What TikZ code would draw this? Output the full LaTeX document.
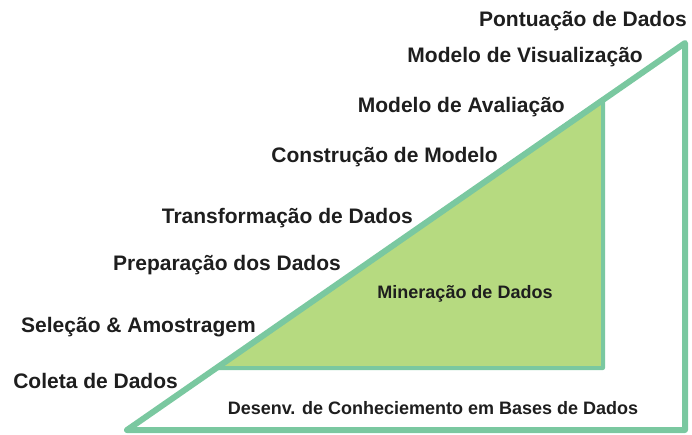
\documentclass[tikz,border=0pt]{standalone}
\usepackage{fontspec}
\setmainfont{Liberation Sans}
\usepackage{tikz}
\definecolor{mint}{RGB}{122,200,160}
\definecolor{leaf}{RGB}{182,218,128}
\definecolor{ink}{RGB}{30,30,30}

\begin{document}
\begin{tikzpicture}[x=1pt, y=-1pt, line join=round,
    lbl/.style={anchor=base east, inner sep=0pt, text=ink, font=\fontsize{21}{25}\selectfont\bfseries},
    sub/.style={anchor=base, inner sep=0pt, text=ink, font=\fontsize{18}{22}\selectfont\bfseries}]
                \useasboundingbox (0,0) rectangle (692,434);
                \coordinate (a) at (127,430);
                \coordinate (b) at (685,430);
                \coordinate (c) at (685,43);
                \coordinate (d) at (217,368);
                \coordinate (e) at (603,368);
                \coordinate (f) at (603,99);

                \filldraw[fill=leaf, draw=mint, line width=4pt] (d) -- (e) -- (f) -- cycle;
                \draw[mint, line width=6pt] (a) -- (b) -- (c) -- cycle;

                \node[lbl] (1) at (687,26)  {Pontuação de Dados};
                \node[lbl] (2) at (643,62)  {Modelo de Visualização};
                \node[lbl] (3) at (565,112) {Modelo de Avaliação};
                \node[lbl] (4) at (498,162) {Construção de Modelo};
                \node[lbl] (5) at (413,223) {Transformação de Dados};
                \node[lbl] (6) at (341,270) {Preparação dos Dados};
                \node[lbl] (7) at (256,332) {Seleção \& Amostragem};
                \node[lbl] (8) at (178,388) {Coleta de Dados};
                \node[sub] (9) at (465,298) {Mineração de Dados};
                \node[sub] (10) at (433,414) {Desenv. de Conheciemento em Bases de Dados};
            \end{tikzpicture}
\end{document}
